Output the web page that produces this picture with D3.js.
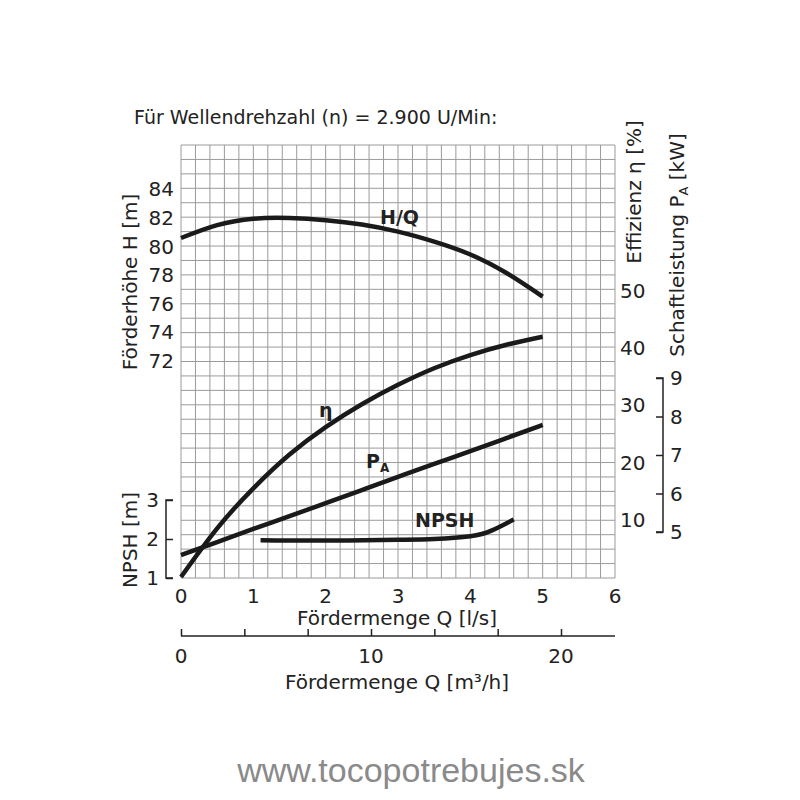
<!DOCTYPE html>
<html><head><meta charset="utf-8">
<script src="https://cdn.jsdelivr.net/npm/d3@7"></script>
<style>body{margin:0;background:#fff}text{font-family:Verdana,"DejaVu Sans",sans-serif;fill:#222}</style>
</head><body><svg id="c" width="800" height="800"></svg>
<script>
// flow Q in l/s
var qH = [0, 0.5, 1, 1.5, 2, 2.5, 3, 3.5, 4, 4.5, 5];
var head = [80.6, 81.5, 81.95, 82.0, 81.85, 81.55, 81.05, 80.35, 79.45, 78.15, 76.5];
var eta = [0, 8.5, 15.5, 21.4, 26.2, 30.2, 33.6, 36.5, 38.8, 40.6, 42];
var power = [4.4, 4.74, 5.08, 5.41, 5.75, 6.09, 6.43, 6.77, 7.1, 7.44, 7.78];
var qNpsh = [1.1, 2, 3, 3.5, 4, 4.3, 4.6];
var npsh = [1.97, 1.96, 1.98, 2.0, 2.07, 2.22, 2.5];
var headTicks = [72, 74, 76, 78, 80, 82, 84];
var etaTicks = [10, 20, 30, 40, 50];
var powerTicks = [5, 6, 7, 8, 9];
var npshTicks = [1, 2, 3];
var qTicks = [0, 1, 2, 3, 4, 5, 6];
var m3hLabels = [0, 10, 20];

var svg = d3.select("#c");
var x = d3.scaleLinear().domain([0, 6]).range([181, 615]);
var yH = d3.scaleLinear().domain([72, 82]).range([361, 218]);
var yEta = d3.scaleLinear().domain([0, 50]).range([577, 291]);
var yP = d3.scaleLinear().domain([5, 9]).range([532, 378]);
var yN = d3.scaleLinear().domain([1, 3]).range([578, 500]);
var xM = d3.scaleLinear().domain([0, 10]).range([181, 371]);

// grid
var g = svg.append("g").attr("stroke", "#9a9a9a").attr("stroke-width", 1);
d3.range(31).forEach(function(i) {
  var px = 181 + i * 434 / 30, py = 145 + i * 433 / 30;
  g.append("line").attr("x1", px).attr("x2", px).attr("y1", 145).attr("y2", 578);
  g.append("line").attr("x1", 181).attr("x2", 615).attr("y1", py).attr("y2", py);
});

svg.append("text").attr("x", 134).attr("y", 124).attr("font-size", 19).text("Für Wellendrehzahl (n) = 2.900 U/Min:");

// left H ticks
svg.selectAll(".ht").data(headTicks).enter().append("text")
  .attr("x", 174).attr("y", function(d) { return yH(d) + 7; }).attr("text-anchor", "end")
  .attr("font-size", 20).text(function(d) { return d; });
svg.append("text").attr("transform", "translate(137,282) rotate(-90)").attr("text-anchor", "middle")
  .attr("font-size", 20).text("Förderhöhe H [m]");

// NPSH axis
var nAx = d3.axisRight(yN).tickValues(npshTicks).tickSize(7).tickFormat("");
svg.append("g").attr("transform", "translate(166,0)").call(nAx)
  .call(function(s) { s.select(".domain").attr("d", "M7,500H0V578H7"); });
svg.selectAll(".nt").data(npshTicks).enter().append("text")
  .attr("x", 159).attr("y", function(d) { return yN(d) + 7; }).attr("text-anchor", "end")
  .attr("font-size", 20).text(function(d) { return d; });
svg.append("text").attr("transform", "translate(137,540) rotate(-90)").attr("text-anchor", "middle")
  .attr("font-size", 20).text("NPSH [m]");

// right eta labels
svg.selectAll(".et").data(etaTicks).enter().append("text")
  .attr("x", 620).attr("y", function(d) { return yEta(d) + 7; })
  .attr("font-size", 20).text(function(d) { return d; });
svg.append("text").attr("transform", "translate(641,192) rotate(-90)").attr("text-anchor", "middle")
  .attr("font-size", 20).text("Effizienz η [%]");

// power axis
var pAx = d3.axisLeft(yP).tickValues(powerTicks).tickSize(7).tickFormat("");
svg.append("g").attr("transform", "translate(663,0)").call(pAx)
  .call(function(s) { s.select(".domain").attr("d", "M-7,378H0V532H-7"); });
svg.selectAll(".pt").data(powerTicks).enter().append("text")
  .attr("x", 670).attr("y", function(d) { return yP(d) + 7; })
  .attr("font-size", 20).text(function(d) { return d; });
var pl = svg.append("text").attr("transform", "translate(684,245) rotate(-90)").attr("text-anchor", "middle")
  .attr("font-size", 20);
pl.append("tspan").text("Schaftleistung P");
pl.append("tspan").attr("font-size", 13).attr("dy", 4).text("A");
pl.append("tspan").attr("dy", -4).text(" [kW]");

// Q axis labels
svg.selectAll(".qt").data(qTicks).enter().append("text")
  .attr("x", function(d) { return x(d); }).attr("y", 603).attr("text-anchor", "middle")
  .attr("font-size", 20).text(function(d) { return d; });
svg.append("text").attr("x", 397).attr("y", 625).attr("text-anchor", "middle")
  .attr("font-size", 20).text("Fördermenge Q [l/s]");

// m3/h axis
var mAx = d3.axisTop(xM).tickValues(d3.range(7).map(function(i) { return i * 10 / 3; })).tickSize(7).tickSizeOuter(0).tickFormat("");
svg.append("g").attr("transform", "translate(0,636)").call(mAx)
  .call(function(s) { s.select(".domain").attr("d", "M181,0H615"); });
svg.selectAll(".mt").data(m3hLabels).enter().append("text")
  .attr("x", function(d) { return xM(d); }).attr("y", 663).attr("text-anchor", "middle")
  .attr("font-size", 20).text(function(d) { return d; });
svg.append("text").attr("x", 397).attr("y", 689).attr("text-anchor", "middle")
  .attr("font-size", 20).text("Fördermenge Q [m³/h]");
svg.selectAll(".tick line, .domain").attr("stroke", "#222").attr("stroke-width", 1.5).attr("fill", "none");

// curves
function curve(xs, ys, sy) {
  var line = d3.line().x(function(d) { return x(d[0]); }).y(function(d) { return sy(d[1]); }).curve(d3.curveNatural);
  svg.append("path").attr("d", line(d3.zip(xs, ys))).attr("fill", "none")
    .attr("stroke", "#1a1a1a").attr("stroke-width", 4.5);
}
curve(qH, head, yH);
curve(qH, eta, yEta);
curve(qH, power, yP);
curve(qNpsh, npsh, yN);

svg.append("text").attr("x", 380).attr("y", 224).attr("font-size", 19).attr("font-weight", "bold").text("H/Q");
svg.append("text").attr("x", 319).attr("y", 417).attr("font-size", 19).attr("font-weight", "bold").text("η");
var pa = svg.append("text").attr("x", 366).attr("y", 468).attr("font-size", 19).attr("font-weight", "bold");
pa.append("tspan").text("P");
pa.append("tspan").attr("font-size", 12).attr("dy", 4).text("A");
svg.append("text").attr("x", 415).attr("y", 527).attr("font-size", 19).attr("font-weight", "bold").text("NPSH");

svg.append("text").attr("x", 411).attr("y", 782).attr("text-anchor", "middle").attr("font-size", 34)
  .style("font-family", "'Liberation Sans',Arial,sans-serif").style("fill", "#8a8a8a").text("www.tocopotrebujes.sk");
</script></body></html>
